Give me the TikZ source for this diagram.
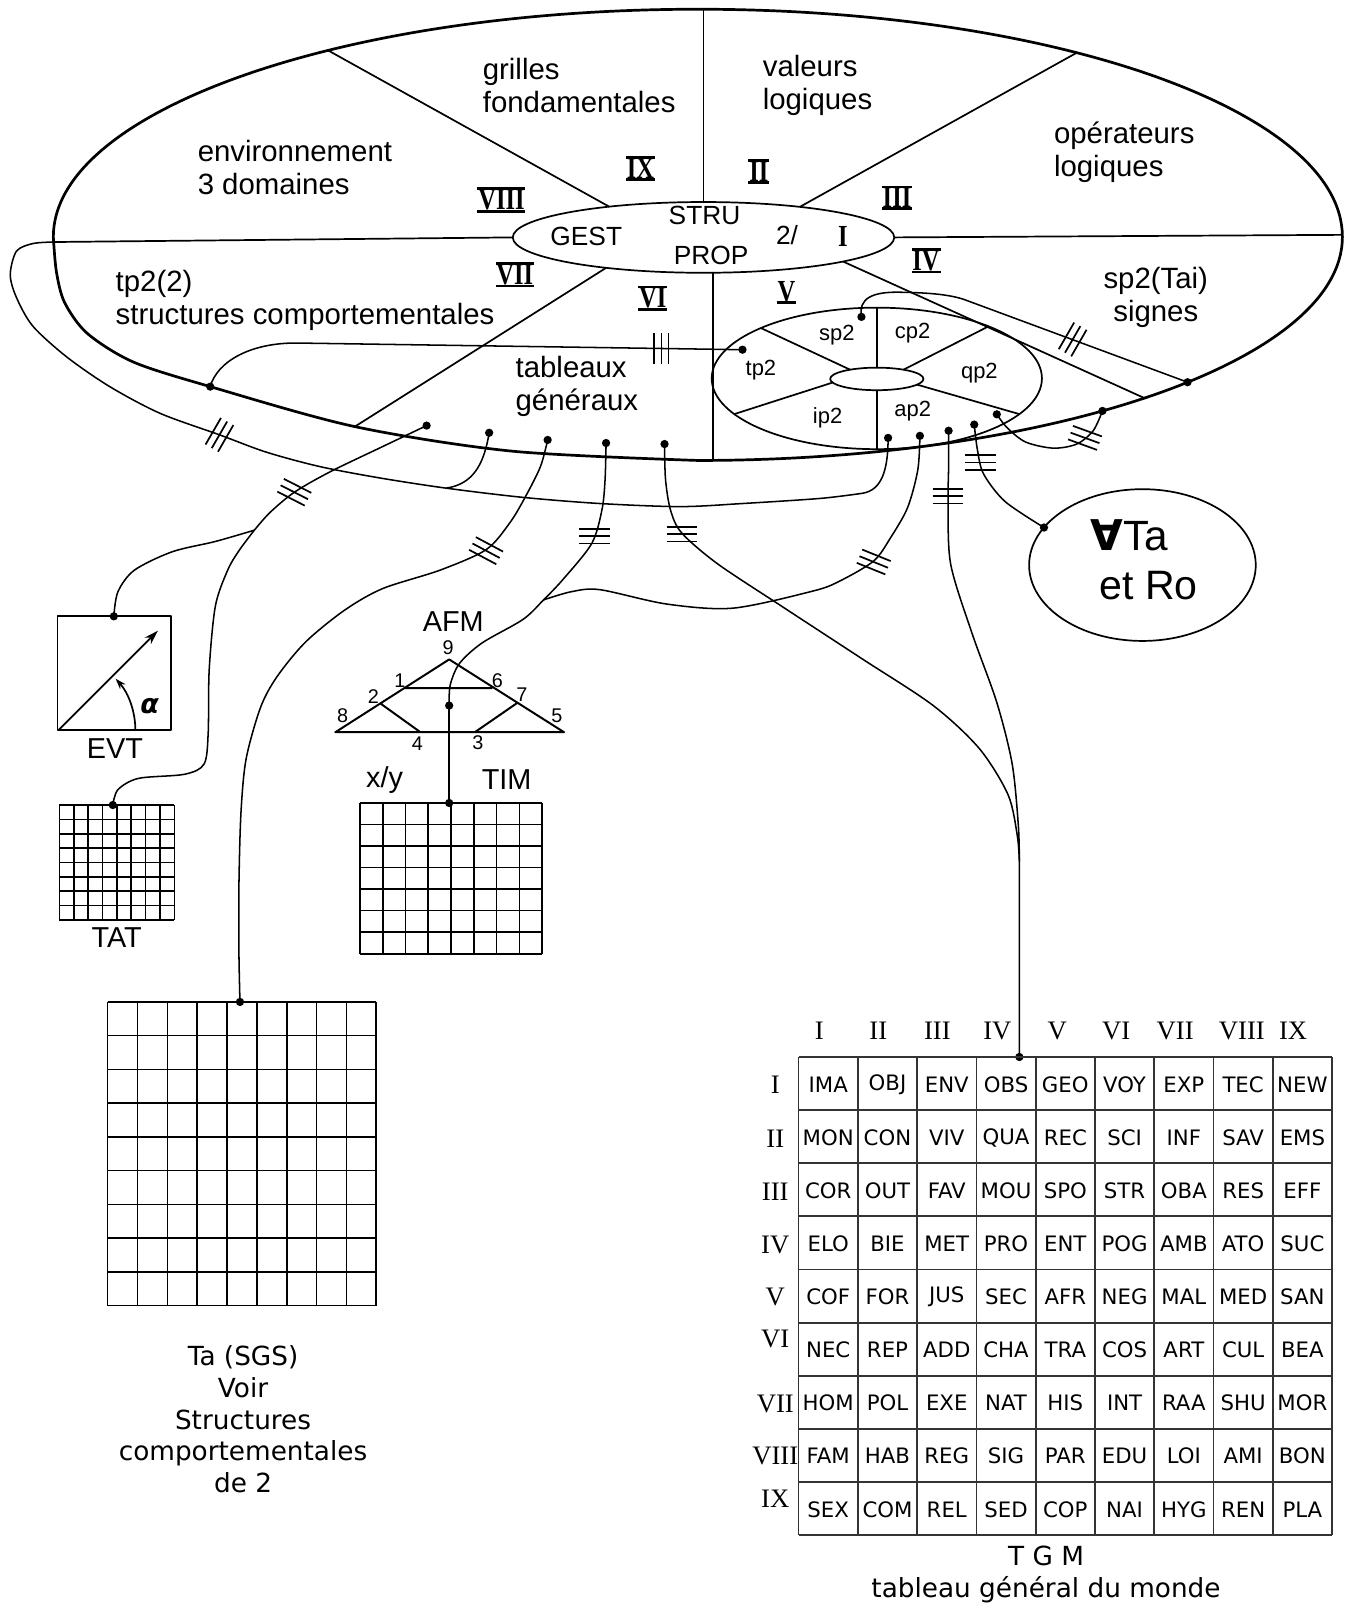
\documentclass[tikz,border=0pt]{standalone}
\usepackage{fontspec}
\usepackage{graphicx}
\setmainfont{Liberation Sans}
\newfontfamily\verdfont{DejaVu Sans}
\newfontfamily\romfont{Liberation Serif}
\usetikzlibrary{arrows.meta}
\newcommand\rnum[1]{\scalebox{0.8}[1]{#1}}
\begin{document}
\begin{tikzpicture}[x=0.02cm,y=-0.02cm,line width=0.95pt,line join=round,
  every node/.style={inner sep=0pt},
  outline/.style={line width=1.5pt},
  link/.style={line width=0.85pt},
  gridline/.style={line width=0.9pt},
  dot/.style={circle,fill=black,draw=none,minimum size=4.6pt},
  lbl/.style={font=\fontsize{16.3}{18.2}\selectfont,align=left,anchor=west},
  core/.style={font=\fontsize{14.6}{16}\selectfont},
  sect/.style={font=\fontsize{12.2}{14}\selectfont},
  fig/.style={font=\fontsize{16}{18}\selectfont},
  num/.style={font=\fontsize{11}{13}\selectfont},
  rn/.style={font=\romfont\bfseries\fontsize{17}{20}\selectfont},
  bar/.style={line width=1.6pt},
  vtext/.style={font=\verdfont\fontsize{14.6}{17.6}\selectfont,align=center},
  cell/.style={font=\verdfont\fontsize{11.8}{14}\selectfont},
  hdr/.style={font=\romfont\fontsize{14.8}{17}\selectfont},
  ticks/.pic={\draw[line width=0.95pt] (-15,-7) -- (15,-7) (-15,0) -- (15,0) (-15,7) -- (15,7);}]

\fill[white] (0,0) rectangle (1315,1568);
\path[use as bounding box] (0,0) rectangle (1315,1568);

% ---------- the wheel of domains ----------
% outer outline: upper half and lower right quarter are elliptic, the lower left is drawn freehand
\draw[outline] (52,231) arc[start angle=180,end angle=360,x radius=628.5,y radius=222]
   arc[start angle=0,end angle=90,x radius=628.5,y radius=218]
   -- plot[smooth] coordinates {(680.5,449) (500,440) (346,416) (205,377) (130,353) (85,325)
   (63,295) (55,265) (52,231)};
\draw (686,231.5) ellipse [x radius=186, y radius=34.5];
\coordinate (lft) at (52.3,236);
\draw (686,197) -- (686,9);
\draw (594,201.5) -- (320,49.2);
\draw (780,201.7) -- (1050,51.4);
\draw (872,231.5) -- (1309,229);
\draw (822,255) -- (1116,388.2);
\draw (695,266) -- (695,449);
\draw (591,261.2) -- (346,416);
\draw (500,231.5) -- (lft);

% core labels
\node[core] (gest) at (571.7,230.7) {GEST};
\node[core] (stru) at (687,209.6) {STRU};
\node[core] (prop) at (693.5,248.6) {PROP};
\node[core] (deux) at (767.5,229) {2/};

% sector labels
\node[lbl] (grilles) at (470,83.5) {grilles\\fondamentales};
\node[lbl] (valeurs) at (743,83.5) {valeurs\\logiques};
\node[lbl] (envir) at (192,163) {environnement\\3 domaines};
\node[lbl] (operat) at (1027,148.5) {opérateurs\\logiques};
\node[lbl] (tpdeux) at (112,293) {tp2(2)\\structures comportementales};
\node[lbl,align=center,anchor=center] (signes) at (1127,290) {sp2(Tai)\\signes};
\node[lbl] (tableaux) at (502,377) {tableaux\\généraux};

% roman numerals of the sectors
\foreach \n/\t/\x/\y in {r9/IX/624.5/164, r2/II/740/167, r3/III/874.7/193, r8/VIII/489/195,
                        r4/IV/903/254.4, r7/VII/502/268, r6/VI/636.6/290.7}{
  \node[rn] (\n) at (\x,\y) {\rnum{\t}};
  \draw[bar] (\n.north west) -- (\n.north east) (\n.south west) -- (\n.south east);
}
\node[rn] (r5) at (766.8,284) {\rnum{V}};
\draw[bar] (r5.south west) -- (r5.south east);
\node[rn] (r1) at (822,230.7) {\rnum{I}};

% ---------- the p2 wheel ----------
\draw (855,369) ellipse [x radius=161, y radius=69];
\draw (855,369.5) ellipse [x radius=45.5, y radius=11];
\draw (855,300) -- (855,358.5);
\draw (855,380.5) -- (855,438);
\draw (829,360.5) -- (742,319.9);
\draw (881,360.5) -- (964,318.2);
\draw (812,373) -- (716,403.8);
\draw (894,375) -- (994,403.8);
\node[sect] (sp) at (816,326.6) {sp2};
\node[sect] (cp) at (890,325) {cp2};
\node[sect] (tp) at (742,360.7) {tp2};
\node[sect] (qp) at (955,363.9) {qp2};
\node[sect] (ip) at (807,407.8) {ip2};
\node[sect] (ap) at (890,401.3) {ap2};

% ---------- attachment points ----------
\node[dot] (dTp2) at (205,377) {};
\node[dot] (dA) at (416,415) {};
\node[dot] (dB) at (477,422) {};
\node[dot] (dC) at (534,429) {};
\node[dot] (dD) at (591,432) {};
\node[dot] (dE) at (648,433) {};
\node[dot] (dTp) at (724,341) {};
\node[dot] (dSp) at (840,309) {};
\node[dot] (dAp) at (866,427) {};
\node[dot] (dG) at (897,425) {};
\node[dot] (dH) at (925,420) {};
\node[dot] (dI) at (950,414) {};
\node[dot] (dJ) at (972,404) {};
\node[dot] (dJe) at (1075,400.7) {};
\node[dot] (dSig) at (1158,372.7) {};
\node[dot] (dAll) at (1018,514.4) {};
\node[dot] (dEVT) at (111,601) {};
\node[dot] (dTAT) at (110,785) {};
\node[dot] (dAFM) at (438,688) {};
\node[dot] (dTIM) at (438,783) {};
\node[dot] (dTa) at (234,977) {};
\node[dot] (dTGM) at (994,1030.7) {};
\coordinate (jA) at (248,517);
\coordinate (jBand) at (435,476);
\coordinate (jD) at (530,585);
\coordinate (jE) at (994,840);

% ---------- connectors ----------
\draw[link] (dTp.center) -- (290,334.5) .. controls (245,334) and (212,352) .. (dTp2.center);
\draw[link] (dSp.center) .. controls (837,291) and (850,284) .. (880,285)
   .. controls (905,285.5) and (925,287) .. (940,292) -- (dSig.center);
\draw[link] plot[smooth] coordinates {(lft) (32,237.5) (16,245) (10,268) (16,290) (32,318) (65,348)
   (107,377) (156,403) (214,424) (260,441) (312,455) (370,466) (jBand) (510,485) (585,491)
   (663,494) (724,491) (800,486) (841,481)} .. controls (860,478) and (866,458) .. (dAp.center);
\draw[link] (dB.center) .. controls (472,452) and (462,472) .. (jBand);
\draw[link] plot[smooth] coordinates {(dA.center) (372,436) (322,460) (287,480) (263,500) (jA)};
\draw[link] plot[smooth] coordinates {(jA) (210,528) (168,538) (131,556) (115,577) (dEVT.center)};
\draw[link] plot[smooth] coordinates {(jA) (233,537) (222,556) (210,591) (204,653) (203,715)
   (199,745) (180,755) (135,759) (115,770) (dTAT.center)};
\draw[link] plot[smooth] coordinates {(dC.center) (527,455) (512,485) (497,510) (474,536) (429,556)
   (373,574) (336,595) (298,626) (270,660) (254,690) (240,740) (235,792) (233,862) (233,930) (dTa.center)};
\draw[link] plot[smooth] coordinates {(dD.center) (590,468) (587,497) (577,530) (549,565) (jD)
   (510,604) (470,627) (448,647) (439,668) (dAFM.center)};
\draw[link] (dAFM.center) -- (dTIM.center);
\draw[link] plot[smooth] coordinates {(dG.center) (895,458) (885,495) (868,525) (852,547) (820,566)
   (794,576) (715,593) (650,589) (585,575) (557,577) (jD)};
\draw[link] plot[smooth] coordinates {(dE.center) (649,468) (654,498) (665,520) (700,550) (762,591)
   (840,642) (910,688) (955,730) (983,775) (992,815) (jE)} -- (dTGM.center);
\draw[link] plot[smooth] coordinates {(dH.center) (925,455) (924.5,490) (927,550) (948,618) (972,685)
   (987,745) (993,805) (jE)};
\draw[link] plot[smooth] coordinates {(dI.center) (953,438) (959,462) (980,489) (dAll.center)};
\draw[link] plot[smooth] coordinates {(dJ.center) (982,417) (1000,431) (1027,437) (1050,433)
   (1066,420) (dJe.center)};

% crossing marks
\pic[rotate=90] at (645,339.5) {ticks};
\pic[rotate=60] at (1046,331) {ticks};
\pic[rotate=60] at (214,424) {ticks};
\pic[rotate=-27] at (287,480) {ticks};
\pic[rotate=-28] at (474,537) {ticks};
\pic at (580,523) {ticks};
\pic at (665,521) {ticks};
\pic[rotate=-22] at (852,548) {ticks};
\pic at (924.5,484) {ticks};
\pic at (956,451) {ticks};
\pic[rotate=-20] at (1058,427) {ticks};

% ---------- universal quantifier bubble ----------
\draw (1114,551) ellipse [x radius=110.5, y radius=74];
\node[font=\fontsize{23.5}{26}\selectfont] (allta) at (1101.5,521.5) {{\verdfont\bfseries ∀}Ta};
\node[font=\fontsize{22.8}{26}\selectfont] (etro) at (1120,571) {et Ro};

% ---------- EVT ----------
\draw (56,601) rectangle (167,712);
\draw[-{Stealth[length=8pt,width=5pt]}] (57,712) -- (154,615);
\draw[-{Stealth[length=6pt,width=4pt]}] (132,712) arc[start angle=0,end angle=-42,radius=75];
\node[font=\verdfont\bfseries\itshape\fontsize{15}{18}\selectfont] (angle) at (146,689) {α};
\node[fig] (evt) at (112,730) {EVT};

% ---------- TAT ----------
\foreach \i in {0,...,8}{
  \draw[gridline] (58+\i*14,785) -- (58+\i*14,897);
  \draw[gridline] (58,785+\i*14) -- (170,785+\i*14);
}
\node[fig] (tat) at (113.8,914) {TAT};

% ---------- AFM ----------
\coordinate (p8) at (327,714); \coordinate (p9) at (438,643); \coordinate (p5) at (550,714);
\coordinate (p1) at (395,671); \coordinate (p6) at (480,671);
\coordinate (p2) at (371,686); \coordinate (p7) at (505,685);
\coordinate (p4) at (410,714); \coordinate (p3) at (463,714);
\draw[line width=1.1pt] (p8) -- (p9) -- (p5) -- cycle (p1) -- (p6) (p2) -- (p4) (p7) -- (p3);
\node[fig] (afm) at (442,606) {AFM};
\foreach \t/\x/\y in {9/437/632, 1/390/664, 6/485/664, 2/364/679, 7/509/677, 8/334/698, 5/543/698, 4/407/725, 3/466/724}
  \node[num] (n\t) at (\x,\y) {\t};
\node[fig] (xy) at (375,761) {x/y};
\node[fig] (tim) at (494,760) {TIM};

% ---------- TIM grid ----------
\foreach \i in {0,...,8} \draw[gridline] (351+\i*22.2,783) -- (351+\i*22.2,930);
\foreach \i in {0,...,7} \draw[gridline] (351,783+\i*21) -- (528.6,783+\i*21);

% ---------- Ta (SGS) grid ----------
\foreach \i in {0,...,9}{
  \draw[gridline] (105+\i*29.1,977) -- (105+\i*29.1,1273.1);
  \draw[gridline] (105,977+\i*32.9) -- (366.9,977+\i*32.9);
}
\node[vtext] (tasgs) at (237,1384) {Ta (SGS)\\Voir\\Structures\\comportementales\\de 2};

% ---------- TGM ----------
\foreach \i in {0,...,9}{
  \draw[line width=1pt,black!80] (778.7+\i*57.8,1030.7) -- (778.7+\i*57.8,1496.9);
  \draw[line width=1pt,black!80] (778.7,1030.7+\i*51.8) -- (1298.9,1030.7+\i*51.8);
}
\foreach \row [count=\r] in {
  {IMA,OBJ,ENV,OBS,GEO,VOY,EXP,TEC,NEW},
  {MON,CON,VIV,QUA,REC,SCI,INF,SAV,EMS},
  {COR,OUT,FAV,MOU,SPO,STR,OBA,RES,EFF},
  {ELO,BIE,MET,PRO,ENT,POG,AMB,ATO,SUC},
  {COF,FOR,JUS,SEC,AFR,NEG,MAL,MED,SAN},
  {NEC,REP,ADD,CHA,TRA,COS,ART,CUL,BEA},
  {HOM,POL,EXE,NAT,HIS,INT,RAA,SHU,MOR},
  {FAM,HAB,REG,SIG,PAR,EDU,LOI,AMI,BON},
  {SEX,COM,REL,SED,COP,NAI,HYG,REN,PLA}}{
  \foreach \w [count=\c] in \row
    \node[cell] (c\r-\c) at ({778.7+57.8*(\c-0.5)},{1031.5+51.8*(\r-0.5)}) {\w};
}
\foreach \t/\x [count=\c] in {I/799,II/856.5,III/914,IV/972.5,V/1031,VI/1088.5,VII/1146,VIII/1211,IX/1261}
  \node[hdr] (h\c) at (\x,1005) {\t};
\foreach \t/\y [count=\r] in {I/1058,II/1110,III/1162,IV/1214,V/1265,VI/1306,VII/1369,VIII/1420,IX/1461}
  \node[hdr] (v\r) at (756,\y) {\t};
\node[vtext] (tgm) at (1020,1535) {T G M\\tableau général du monde};
\end{tikzpicture}
\end{document}
